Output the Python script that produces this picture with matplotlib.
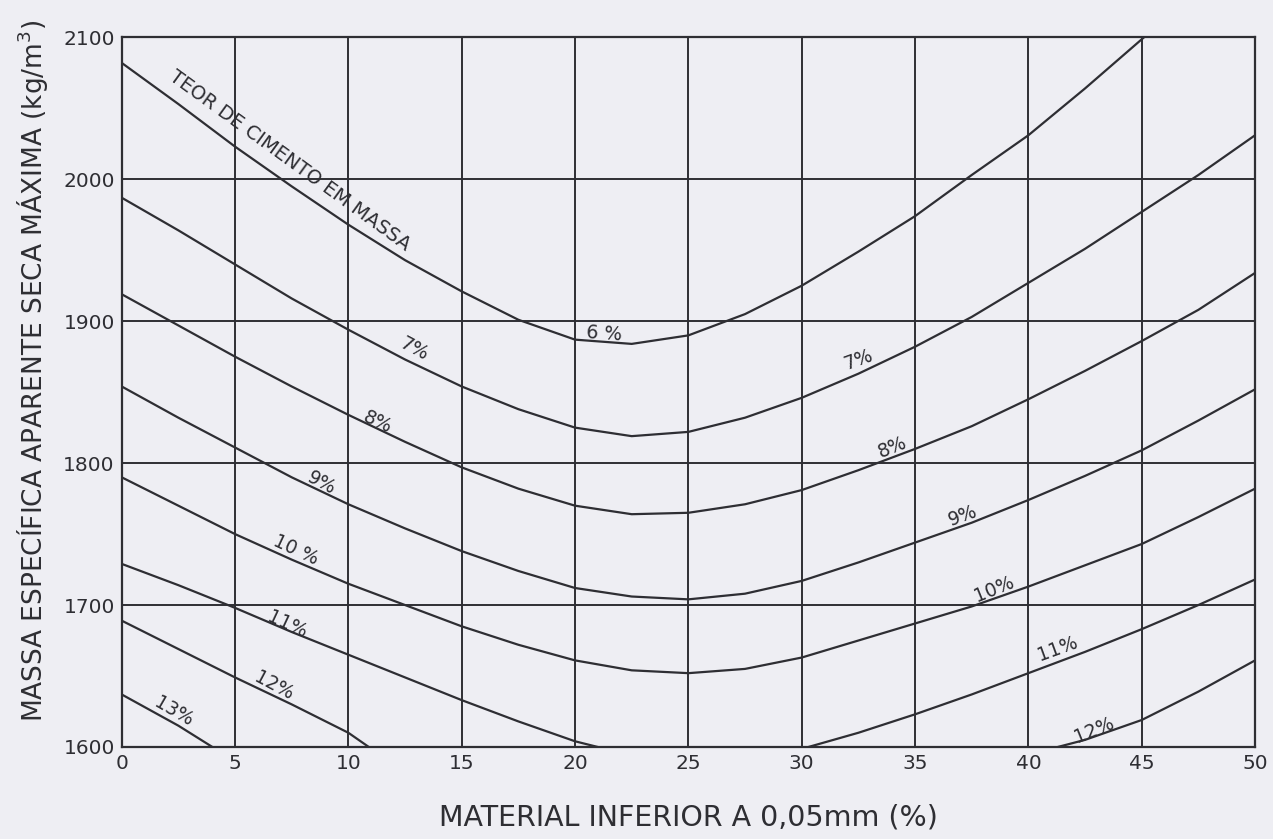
import numpy as np
import matplotlib
matplotlib.use("Agg")
import matplotlib.pyplot as plt

# densidade maxima (kg/m3), por teor de cimento
x_full = [0, 2.5, 5, 7.5, 10, 12.5, 15, 17.5, 20, 22.5, 25,
          27.5, 30, 32.5, 35, 37.5, 40, 42.5, 45, 47.5, 50]

x_6 = [0, 2.5, 5, 7.5, 10, 12.5, 15, 17.5, 20, 22.5, 25,
       27.5, 30, 32.5, 35, 37.5, 40, 42.5, 45.1]
dens_6 = [2082, 2053, 2023, 1995, 1968, 1943, 1921, 1901, 1887, 1884, 1890,
          1905, 1925, 1949, 1974, 2003, 2031, 2064, 2100]

dens_7 = [1987, 1964, 1940, 1916, 1894, 1873, 1854, 1838, 1825, 1819, 1822,
          1832, 1846, 1863, 1882, 1903, 1927, 1951, 1977, 2003, 2031]
dens_8 = [1919, 1897, 1875, 1854, 1834, 1815, 1797, 1782, 1770, 1764, 1765,
          1771, 1781, 1795, 1810, 1826, 1845, 1865, 1886, 1908, 1934]
dens_9 = [1854, 1832, 1811, 1790, 1771, 1754, 1738, 1724, 1712, 1706, 1704,
          1708, 1717, 1730, 1744, 1758, 1774, 1791, 1809, 1830, 1852]
dens_10 = [1790, 1770, 1750, 1732, 1715, 1700, 1685, 1672, 1661, 1654, 1652,
           1655, 1663, 1675, 1687, 1699, 1713, 1728, 1743, 1762, 1782]

x_11_a = [0, 2.5, 5, 7.5, 10, 12.5, 15, 17.5, 20, 21]
dens_11_a = [1729, 1714, 1698, 1681, 1665, 1649, 1633, 1618, 1604, 1600]
x_11_b = [30.3, 32.5, 35, 37.5, 40, 42.5, 45, 47.5, 50]
dens_11_b = [1600, 1610, 1623, 1637, 1652, 1667, 1683, 1700, 1718]

x_12_a = [0, 2.5, 5, 7.5, 10, 10.9]
dens_12_a = [1689, 1669, 1649, 1630, 1610, 1600]
x_12_b = [41.3, 42.5, 45, 47.5, 50]
dens_12_b = [1600, 1605, 1619, 1639, 1661]

x_13 = [0, 2.5, 4.0]
dens_13 = [1637, 1615, 1600]

x_ticks = [0, 5, 10, 15, 20, 25, 30, 35, 40, 45, 50]
y_ticks = [1600, 1700, 1800, 1900, 2000, 2100]

ink = "#2e2e33"
paper = "#eeeef3"

fig = plt.figure(figsize=(12.73, 8.39), dpi=100, facecolor=paper)
ax = fig.add_axes([0.0956, 0.1097, 0.8903, 0.8458])
ax.set_facecolor(paper)

for xv in x_ticks:
    ax.axvline(xv, color=ink, lw=1.4, zorder=1)
for yv in y_ticks:
    ax.axhline(yv, color=ink, lw=1.4, zorder=1)

curves = [(x_6, dens_6), (x_full, dens_7), (x_full, dens_8), (x_full, dens_9),
          (x_full, dens_10), (x_11_a, dens_11_a), (x_11_b, dens_11_b),
          (x_12_a, dens_12_a), (x_12_b, dens_12_b), (x_13, dens_13)]
for xs, ys in curves:
    ax.plot(xs, ys, color=ink, lw=1.6, zorder=2, solid_joinstyle="round")

ax.set_xlim(0, 50)
ax.set_ylim(1600, 2100)
ax.set_xticks(x_ticks)
ax.set_yticks(y_ticks)
ax.tick_params(length=0, labelsize=14.5, colors=ink, pad=5)
for s in ax.spines.values():
    s.set_color(ink)
    s.set_linewidth(1.6)

ax.set_xlabel("MATERIAL INFERIOR A 0,05mm (%)", fontsize=20.5, color=ink, labelpad=22)
ax.set_ylabel("MASSA ESPECÍFICA APARENTE SECA MÁXIMA (kg/m$^3$)", fontsize=19,
              color=ink)
ax.yaxis.set_label_coords(-0.063, 0.53)

# rotulos das curvas
ax.text(7.4, 2013, "TEOR DE CIMENTO EM MASSA", fontsize=14, color=ink,
        rotation=-36, ha="center", va="center", rotation_mode="anchor")
labels = [
    (21.3, 1891, "6 %", -4), (12.9, 1880, "7%", -28), (11.3, 1829, "8%", -25),
    (8.8, 1786, "9%", -28), (7.7, 1739, "10 %", -25), (7.3, 1686, "11%", -25),
    (6.7, 1643, "12%", -28), (2.3, 1625, "13%", -30),
    (32.5, 1873, "7%", 20), (34.0, 1811, "8%", 22), (37.1, 1763, "9%", 20),
    (38.5, 1711, "10%", 22), (41.3, 1669, "11%", 20), (42.9, 1612, "12%", 22),
]
for lx, ly, txt, rot in labels:
    ax.text(lx, ly, txt, fontsize=13.5, color=ink, rotation=rot,
            ha="center", va="center", rotation_mode="anchor")

fig.savefig("out.png", dpi=100, facecolor=paper)
